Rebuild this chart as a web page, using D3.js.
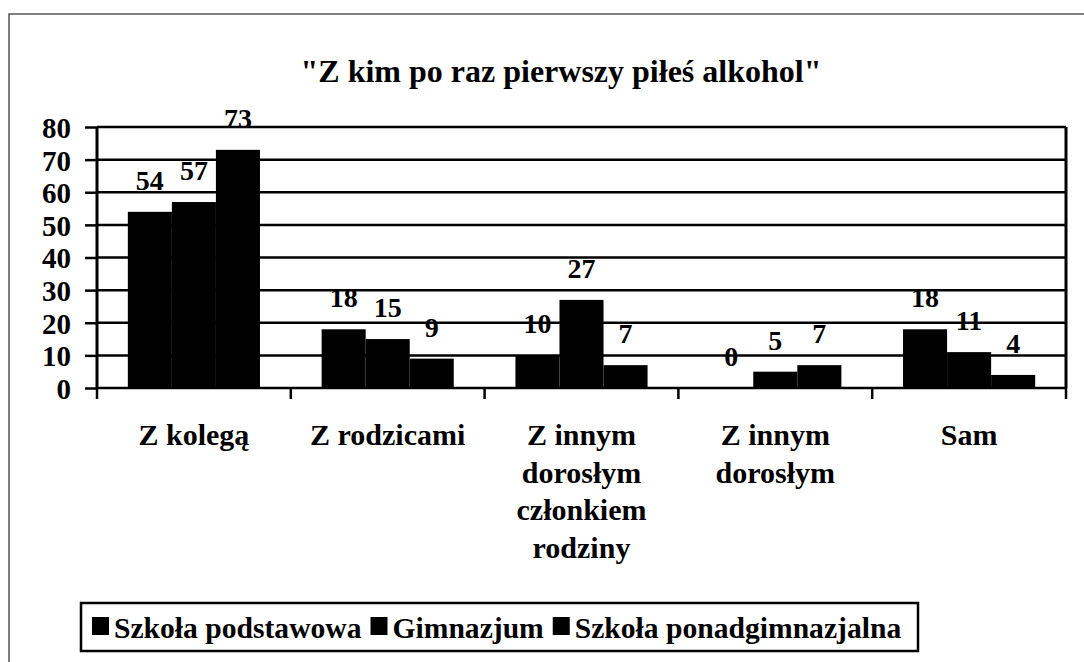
<!DOCTYPE html>
<html><head><meta charset="utf-8">
<script src="https://cdn.jsdelivr.net/npm/d3@7"></script>
<style>body{margin:0;background:#fff}svg{display:block}svg text{font-family:'Liberation Serif','DejaVu Serif',serif;font-weight:bold;fill:#000}</style>
</head><body><svg id="c" width="1084" height="662"></svg>
<script>
const categories = [["Z kolegą"],["Z rodzicami"],["Z innym","dorosłym","członkiem","rodziny"],["Z innym","dorosłym"],["Sam"]];
const seriesNames = ["Szkoła podstawowa","Gimnazjum","Szkoła ponadgimnazjalna"];
const podstawowa = [54,18,10,0,18];
const gimnazjum = [57,15,27,5,11];
const ponadgimnazjalna = [73,9,7,7,4];
const yTicks = [0,10,20,30,40,50,60,70,80];
const title = "\"Z kim po raz pierwszy piłeś alkohol\"";

const FONT = "'Liberation Serif','DejaVu Serif',serif";
const series = [podstawowa, gimnazjum, ponadgimnazjalna];
const svg = d3.select("#c");
const L=97,R=1066,T=127,B=388;
const catIdx = categories.map((d,i)=>i);
const x0 = d3.scaleBand().domain(catIdx).range([L,R]).paddingInner(0).paddingOuter(0);
const x1 = d3.scaleBand().domain([0,1,2]).range([0,x0.bandwidth()]).paddingInner(0).paddingOuter(0.7);
const y = d3.scaleLinear().domain([0,80]).range([B,T]);

// outer frame
svg.append("rect").attr("x",9).attr("y",14).attr("width",1200).attr("height",800).attr("fill","none").attr("stroke","#555").attr("stroke-width",1.5);

// title
svg.append("text").attr("x",561).attr("y",82).attr("text-anchor","middle").attr("font-size",32).attr("font-family",FONT).text(title);

// value labels
const g = svg.append("g");
series.forEach((s,si)=>{
  g.selectAll(null).data(s).enter().append("text")
    .attr("x",(d,i)=>x0(i)+x1(si)+x1.bandwidth()/2)
    .attr("y",d=>y(d)-22)
    .attr("text-anchor","middle").attr("font-size",28).attr("font-family",FONT).text(d=>d);
});

// bars
series.forEach((s,si)=>{
  svg.selectAll(null).data(s).enter().append("rect")
    .attr("x",(d,i)=>x0(i)+x1(si)).attr("width",x1.bandwidth())
    .attr("y",d=>y(d)).attr("height",d=>B-y(d)).attr("fill","#000");
});

// gridlines + y axis
const yAxis = d3.axisLeft(y).tickValues(yTicks).tickSize(12).tickPadding(14).tickFormat(d3.format("d"));
const ya = svg.append("g").attr("transform",`translate(${L},0)`).call(yAxis).attr("font-family",FONT);
ya.select(".domain").remove();
ya.selectAll(".tick line").attr("stroke","#000").attr("stroke-width",2.5);
ya.selectAll(".tick text").attr("font-size",29).attr("dy","0.36em");
svg.selectAll(null).data(yTicks).enter().append("line")
  .attr("x1",L).attr("x2",R).attr("y1",d=>y(d)).attr("y2",d=>y(d)).attr("stroke","#000").attr("stroke-width",2.5);

// x axis ticks and frame lines
const xTicks = d3.range(categories.length+1).map(i=>L+i*x0.step());
svg.selectAll(null).data(xTicks).enter().append("line")
  .attr("x1",d=>d).attr("x2",d=>d).attr("y1",B).attr("y2",B+11).attr("stroke","#000").attr("stroke-width",2.5);
svg.append("line").attr("x1",L).attr("x2",L).attr("y1",T).attr("y2",B).attr("stroke","#000").attr("stroke-width",3);
svg.append("line").attr("x1",R).attr("x2",R).attr("y1",T).attr("y2",B).attr("stroke","#000").attr("stroke-width",3);

// category labels
categories.forEach((lines,i)=>{
  const t = svg.append("text").attr("text-anchor","middle").attr("font-size",30).attr("font-family",FONT);
  lines.forEach((ln,j)=>{
    t.append("tspan").attr("x",x0(i)+x0.bandwidth()/2).attr("y",445+j*37.5).text(ln);
  });
});

// legend
const lg = svg.append("g");
lg.append("rect").attr("x",81).attr("y",603).attr("width",837).attr("height",48).attr("fill","#fff").attr("stroke","#000").attr("stroke-width",2.5);
let lx = 92;
seriesNames.forEach((n,i)=>{
  const t = lg.append("text").attr("font-size",29.6).attr("font-family",FONT).attr("y",638).attr("x",lx+22).text(n);
  lg.append("rect").attr("x",lx).attr("y",617).attr("width",17).attr("height",18).attr("fill","#000");
  lx += 22 + t.node().getComputedTextLength() + 9;
});
</script></body></html>
